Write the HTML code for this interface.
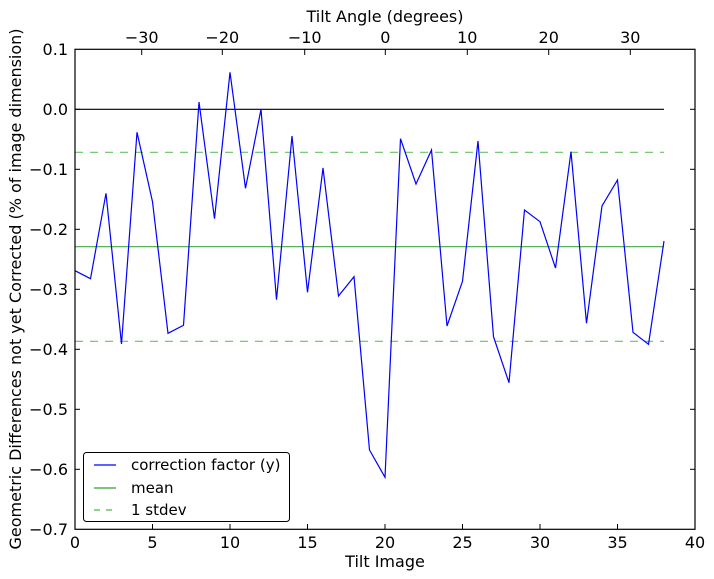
<!DOCTYPE html>
<html><head><style>body{margin:0;background:#fff}svg{display:block}text{font-family:"DejaVu Sans","Liberation Sans",sans-serif;fill:#000}</style></head><body>
<svg width="714" height="579" xmlns="http://www.w3.org/2000/svg">
<rect width="714" height="579" fill="#fff"/>
<line x1="75" y1="109.3" x2="664" y2="109.3" stroke="#000" stroke-width="1.2"/>
<line x1="75" y1="246.7" x2="664" y2="246.7" stroke="#2ca02c" stroke-width="1.2" stroke-opacity="0.9"/>
<line x1="75" y1="152.3" x2="664" y2="152.3" stroke="#4cb84c" stroke-width="1.2" stroke-dasharray="8,7" stroke-opacity="0.85"/>
<line x1="75" y1="341.3" x2="664" y2="341.3" stroke="#4cb84c" stroke-width="1.2" stroke-dasharray="8,7" stroke-opacity="0.85"/>
<polyline fill="none" stroke="#0000ff" stroke-width="1.2" points="75,270.7 90.5,278.7 106,193.3 121.5,344 137,132.3 152.5,201.7 168,333.3 183.5,325.3 199,102 214.5,218.7 230,72.3 245.5,188.3 261,109.3 276.5,299.7 292,136 307.5,292.3 323,168 338.5,296 354,276.7 369.5,450 385,477.3 400.5,138.7 416,184 431.5,150 447,326 462.5,281.3 478,141 493.5,336.7 509,382.7 524.5,210 540,221.7 555.5,268 571,151.7 586.5,323.3 602,206 617.5,180 633,332.3 648.5,344.3 664,241"/>
<rect x="75" y="49.3" width="620" height="480" fill="none" stroke="#000" stroke-width="1.2"/>
<g stroke="#000" stroke-width="1">
<line x1="75" y1="529.3" x2="75" y2="524"/><line x1="152.5" y1="529.3" x2="152.5" y2="524"/><line x1="230" y1="529.3" x2="230" y2="524"/><line x1="307.5" y1="529.3" x2="307.5" y2="524"/><line x1="385" y1="529.3" x2="385" y2="524"/><line x1="462.5" y1="529.3" x2="462.5" y2="524"/><line x1="540" y1="529.3" x2="540" y2="524"/><line x1="617.5" y1="529.3" x2="617.5" y2="524"/>
<line x1="141.7" y1="49.3" x2="141.7" y2="55"/><line x1="222.3" y1="49.3" x2="222.3" y2="55"/><line x1="304.7" y1="49.3" x2="304.7" y2="55"/><line x1="385.3" y1="49.3" x2="385.3" y2="55"/><line x1="467.3" y1="49.3" x2="467.3" y2="55"/><line x1="548.7" y1="49.3" x2="548.7" y2="55"/><line x1="630.3" y1="49.3" x2="630.3" y2="55"/>
<line x1="75" y1="109.3" x2="80" y2="109.3"/><line x1="75" y1="169.3" x2="80" y2="169.3"/><line x1="75" y1="229.3" x2="80" y2="229.3"/><line x1="75" y1="289.3" x2="80" y2="289.3"/><line x1="75" y1="349.3" x2="80" y2="349.3"/><line x1="75" y1="409.3" x2="80" y2="409.3"/><line x1="75" y1="469.3" x2="80" y2="469.3"/>
<line x1="695" y1="109.3" x2="690" y2="109.3"/><line x1="695" y1="169.3" x2="690" y2="169.3"/><line x1="695" y1="229.3" x2="690" y2="229.3"/><line x1="695" y1="289.3" x2="690" y2="289.3"/><line x1="695" y1="349.3" x2="690" y2="349.3"/><line x1="695" y1="409.3" x2="690" y2="409.3"/><line x1="695" y1="469.3" x2="690" y2="469.3"/>
</g>
<g font-size="16" text-anchor="middle">
<text x="75" y="548">0</text><text x="152.5" y="548">5</text><text x="230" y="548">10</text><text x="307.5" y="548">15</text><text x="385" y="548">20</text><text x="462.5" y="548">25</text><text x="540" y="548">30</text><text x="617.5" y="548">35</text><text x="695" y="548">40</text>
<text x="141.7" y="43">−30</text><text x="222.3" y="43">−20</text><text x="304.7" y="43">−10</text><text x="385.3" y="43">0</text><text x="467.3" y="43">10</text><text x="548.7" y="43">20</text><text x="630.3" y="43">30</text>
</g>
<g font-size="16" text-anchor="end">
<text x="68" y="55">0.1</text><text x="68" y="115">0.0</text><text x="68" y="175">−0.1</text><text x="68" y="235">−0.2</text><text x="68" y="295">−0.3</text><text x="68" y="355">−0.4</text><text x="68" y="415">−0.5</text><text x="68" y="475">−0.6</text><text x="68" y="535">−0.7</text>
</g>
<text x="385" y="567" font-size="16" text-anchor="middle">Tilt Image</text>
<text x="385" y="22" font-size="16" text-anchor="middle">Tilt Angle (degrees)</text>
<text transform="translate(21,289) rotate(-90)" font-size="16" text-anchor="middle">Geometric Differences not yet Corrected (% of image dimension)</text>
<rect x="83.5" y="452.5" width="206" height="69" rx="3" fill="#fff" stroke="#000" stroke-width="1"/>
<line x1="94" y1="465" x2="116" y2="465" stroke="#0000ff" stroke-width="1.2"/>
<line x1="94" y1="488" x2="116" y2="488" stroke="#2ca02c" stroke-width="1.2"/>
<line x1="94" y1="510" x2="116" y2="510" stroke="#4cb84c" stroke-width="1.2" stroke-dasharray="6,6"/>
<g font-size="15"><text x="131" y="470">correction factor (y)</text><text x="131" y="493">mean</text><text x="131" y="515">1 stdev</text></g>
</svg>
</body></html>
